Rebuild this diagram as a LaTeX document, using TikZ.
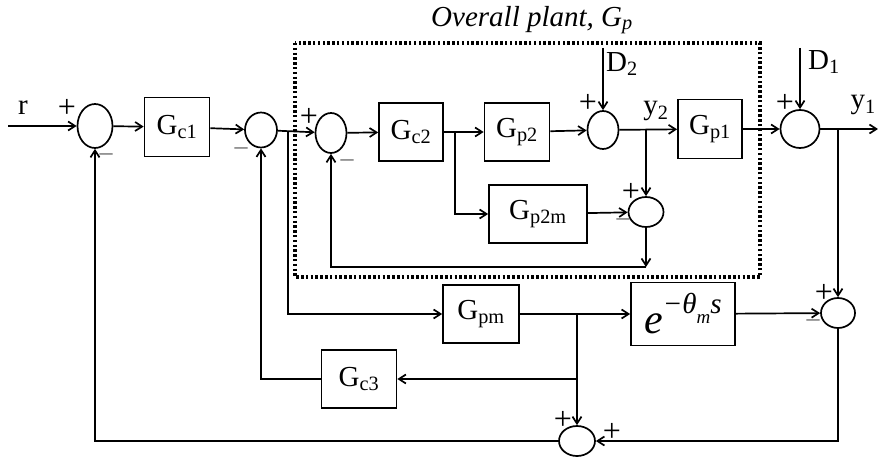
\documentclass[tikz,border=0pt]{standalone}
\usepackage{fontspec}
\setmainfont{Liberation Serif}
\usetikzlibrary{shapes.geometric,arrows.meta,positioning,calc}

\begin{document}
\begin{tikzpicture}[x=1pt, y=-1pt,
    blk/.style={rectangle, draw, line width=1.7pt, inner sep=0pt,
                font=\fontsize{29}{31}\selectfont},
    sumj/.style={ellipse, draw, line width=1.7pt, inner sep=0pt},
    arr/.style={-{Straight Barb[length=7pt,width=9pt]}, line width=1.7pt},
    sgn/.style={font=\fontsize{32}{34}\selectfont, inner sep=0pt},
    neg/.style={font=\fontsize{26}{28}\selectfont, text=black!60, inner sep=0pt},
    lbl/.style={font=\fontsize{29}{31}\selectfont, inner sep=0pt},
    plant/.style={line width=3.2pt, dash pattern=on 2.5pt off 2.3pt},
  ]
    \useasboundingbox (0,0) rectangle (878,457);

    % overall plant frame
    \draw[plant] (295,43) rectangle (760,277);
    \node[font=\fontsize{29}{31}\selectfont\itshape] (title) at (532,20) {Overall plant, G\textsubscript{p}};

    % summing junctions
    \node[sumj, minimum width=35pt, minimum height=44pt] (s1) at (95,126) {};
    \node[sumj, minimum width=32pt, minimum height=35pt] (s2) at (261,130) {};
    \node[sumj, minimum width=31pt, minimum height=40pt] (s3) at (331,133) {};
    \node[sumj, minimum width=31pt, minimum height=38pt] (s5) at (603,130) {};
    \node[sumj, minimum width=35pt, minimum height=30pt] (s6) at (646,212) {};
    \node[sumj, minimum width=39pt, minimum height=38pt] (s7) at (800,129) {};
    \node[sumj, minimum width=34pt, minimum height=30pt] (s4) at (838,313) {};
    \node[sumj, minimum width=36pt, minimum height=30pt] (s8) at (577,441) {};

    % blocks
    \node[blk, minimum width=65pt, minimum height=59pt] (gc1) at (177,127) {G\textsubscript{c1}};
    \node[blk, minimum width=64pt, minimum height=58pt] (gc2) at (411,132) {G\textsubscript{c2}};
    \node[blk, minimum width=65pt, minimum height=58pt] (gp2) at (517,132) {G\textsubscript{p2}};
    \node[blk, minimum width=64pt, minimum height=59pt] (gp1) at (710,129) {G\textsubscript{p1}};
    \node[blk, minimum width=98pt, minimum height=58pt] (gp2m) at (538,214) {G\textsubscript{p2m}};
    \node[blk, minimum width=76pt, minimum height=58pt] (gpm) at (481,314) {G\textsubscript{pm}};
    \node[blk, minimum width=104pt, minimum height=63pt] (delay) at (683,314)
        {\itshape\fontsize{42}{44}\selectfont e\raisebox{20pt}{\fontsize{29}{30}\selectfont −θ\raisebox{-10pt}{\fontsize{19}{20}\selectfont m}s}};
    \node[blk, minimum width=75pt, minimum height=58pt] (gc3) at (359,379) {G\textsubscript{c3}};

    % free ends and branch points
    \coordinate (rin) at (8,126);
    \coordinate (d2in) at (603,48);
    \coordinate (d1in) at (800,48);
    \coordinate (yout) at (878,129);
    \coordinate (b1) at (288,131);
    \coordinate (b2) at (455,132);
    \coordinate (b3) at (646,130);
    \coordinate (b4) at (838,129);
    \coordinate (b5) at (577,314);
    \coordinate (b6) at (577,379);
    \coordinate (c1) at (646,267);

    % forward path
    \draw[arr] (rin) -- (s1);
    \draw[arr] (s1) -- (gc1);
    \draw[arr] (gc1) -- (s2);
    \draw[arr] (s2) -- (s3);
    \draw[arr] (s3) -- (gc2);
    \draw[arr] (gc2) -- (gp2);
    \draw[arr] (gp2) -- (s5);
    \draw[arr] (d2in) -- (s5);
    \draw[arr] (s5) -- (gp1);
    \draw[arr] (gp1) -- (s7);
    \draw[arr] (d1in) -- (s7);
    \draw[arr] (s7) -- (yout);

    % inner model loop
    \draw[arr] (b2) |- (gp2m);
    \draw[arr] (b3) -- (s6);
    \draw[arr] (gp2m) -- (s6);
    \draw[arr] (s6) -- (c1);
    \draw[arr] (c1) -| (s3);

    % outer model loop
    \draw[arr] (b1) |- (gpm);
    \draw[arr] (gpm) -- (delay);
    \draw[arr] (delay) -- (s4);
    \draw[arr] (b4) -- (s4);
    \draw[arr] (b5) -- (s8);
    \draw[arr] (b6) -- (gc3);
    \draw[arr] (gc3) -| (s2);
    \draw[arr] (s4) |- (s8);
    \draw[arr] (s8) -| (s1);

    % signals
    \node[lbl] (lr) at (23,108) {r};
    \node[lbl, anchor=west] (ld2) at (606,64) {D\textsubscript{2}};
    \node[lbl, anchor=west] (ld1) at (808,62) {D\textsubscript{1}};
    \node[lbl] (ly2) at (656,111) {y\textsubscript{2}};
    \node[lbl, anchor=east] (ly1) at (876,105) {y\textsubscript{1}};

    % signs
    \node[sgn] at (67,108) {+};
    \node[neg] at (106,157) {–};
    \node[neg] at (241,151) {–};
    \node[sgn] at (309,117) {+};
    \node[neg] at (347,163) {–};
    \node[sgn] at (588,103) {+};
    \node[sgn] at (631,192) {+};
    \node[neg] at (623,222) {–};
    \node[sgn] at (785,103) {+};
    \node[sgn] at (824,293) {+};
    \node[neg] at (813,323) {–};
    \node[sgn] at (563,420) {+};
    \node[sgn] at (612,432) {+};
  \end{tikzpicture}
\end{document}
